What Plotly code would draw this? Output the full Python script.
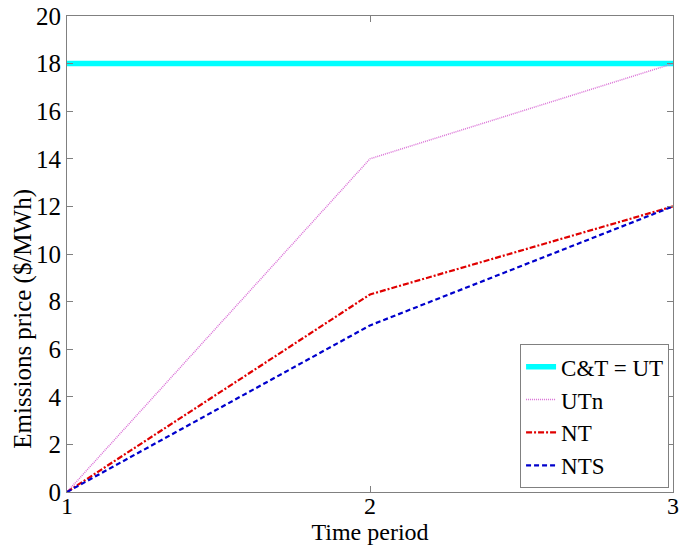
import plotly.graph_objects as go

periods = [1, 2, 3]
ct_ut = [18, 18, 18]
utn = [0, 14, 18]
nt = [0, 8.3, 12]
nts = [0, 7.0, 12]

FONT = "Liberation Serif, Times New Roman, serif"
AX = "#808080"

fig = go.Figure()
fig.add_trace(go.Scatter(x=periods, y=ct_ut, mode="lines", name="C&amp;T = UT",
                         line=dict(color="#00FFFF", width=5.5)))
fig.add_trace(go.Scatter(x=periods, y=utn, mode="lines", name="UTn",
                         line=dict(color="#DA70D6", width=1.5, dash="1px,1px")))
fig.add_trace(go.Scatter(x=periods, y=nt, mode="lines", name="NT",
                         line=dict(color="#E00000", width=2.2, dash="6px,2px,2px,2px")))
fig.add_trace(go.Scatter(x=periods, y=nts, mode="lines", name="NTS",
                         line=dict(color="#0000CC", width=2.2, dash="5px,3px")))

fig.update_layout(
    width=682, height=548,
    margin=dict(l=67, r=3, t=15, b=56),
    paper_bgcolor="white", plot_bgcolor="white",
    font=dict(family=FONT, size=24, color="black"),
    showlegend=True,
    legend=dict(x=0.9935, y=0.008, xanchor="right", yanchor="bottom",
                bordercolor=AX, borderwidth=1, bgcolor="white",
                font=dict(family=FONT, size=23), tracegroupgap=0,
                itemwidth=30),
    xaxis=dict(range=[1, 3], tickvals=[1, 2, 3], showgrid=False, zeroline=False,
               showline=True, linecolor=AX, linewidth=1, mirror="ticks",
               ticks="inside", ticklen=6, tickcolor=AX, ticklabeloverflow="allow",
               ticklabelstandoff=-8,
               tickfont=dict(family=FONT, size=24),
               title=dict(text="Time period", font=dict(family=FONT, size=24), standoff=0)),
    yaxis=dict(range=[0, 20], tickvals=list(range(0, 21, 2)), showgrid=False, zeroline=False,
               showline=True, linecolor=AX, linewidth=1, mirror="ticks",
               ticks="inside", ticklen=6, tickcolor=AX,
               tickfont=dict(family=FONT, size=25)),
    annotations=[dict(text="Emissions price ($/MWh)", textangle=-90,
                      xref="paper", yref="paper", x=-0.0719, y=0.365,
                      xanchor="center", yanchor="middle", showarrow=False,
                      font=dict(family=FONT, size=25))],
)

fig.write_html("out.html")
